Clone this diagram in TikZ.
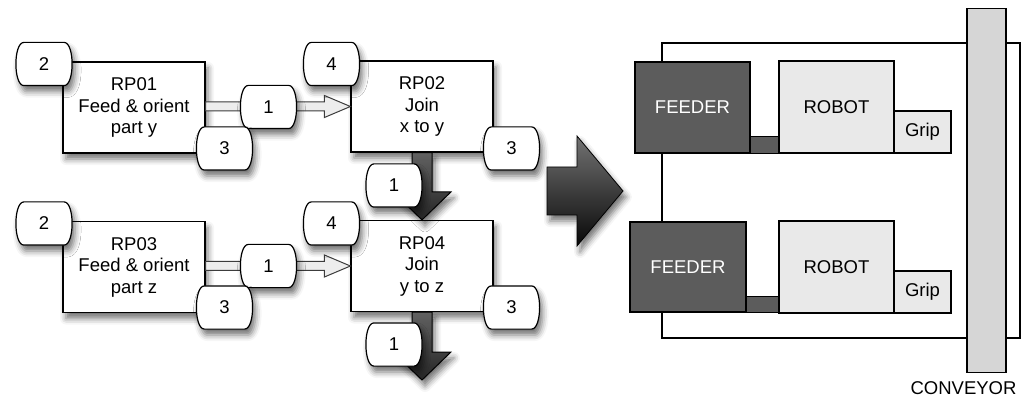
\documentclass[tikz,border=0pt]{standalone}
\usepackage{fontspec}
\setmainfont{Liberation Sans}
\usetikzlibrary{calc,shadows.blur}

\definecolor{feedgray}{HTML}{5C5C5C}
\definecolor{robotgray}{HTML}{E9E9E9}
\definecolor{convgray}{HTML}{D6D6D6}
\definecolor{hollowfill}{HTML}{EDEDED}
\definecolor{hollowline}{HTML}{3C3C3C}

% A box with flat top and bottom and gently bulging sides.
\makeatletter
\pgfdeclareshape{barrel}{
  \inheritsavedanchors[from=rectangle]
  \inheritanchorborder[from=rectangle]
  \inheritanchor[from=rectangle]{center}
  \inheritanchor[from=rectangle]{north}
  \inheritanchor[from=rectangle]{south}
  \inheritanchor[from=rectangle]{east}
  \inheritanchor[from=rectangle]{west}
  \inheritanchor[from=rectangle]{north east}
  \inheritanchor[from=rectangle]{north west}
  \inheritanchor[from=rectangle]{south east}
  \inheritanchor[from=rectangle]{south west}
  \inheritanchor[from=rectangle]{base}
  \inheritanchor[from=rectangle]{mid}
  \backgroundpath{
    \southwest \edef\brlL{\the\pgf@x}\edef\brlB{\the\pgf@y}
    \northeast \edef\brlR{\the\pgf@x}\edef\brlT{\the\pgf@y}
    \pgfmathsetlengthmacro\brlLi{\brlL+8pt}
    \pgfmathsetlengthmacro\brlRi{\brlR-8pt}
    \pgfmathsetlengthmacro\brlLo{\brlL-2.67pt}
    \pgfmathsetlengthmacro\brlRo{\brlR+2.67pt}
    \pgfpathmoveto{\pgfqpoint{\brlLi}{\brlT}}
    \pgfpathlineto{\pgfqpoint{\brlRi}{\brlT}}
    \pgfpathcurveto{\pgfqpoint{\brlRo}{\brlT}}{\pgfqpoint{\brlRo}{\brlB}}{\pgfqpoint{\brlRi}{\brlB}}
    \pgfpathlineto{\pgfqpoint{\brlLi}{\brlB}}
    \pgfpathcurveto{\pgfqpoint{\brlLo}{\brlB}}{\pgfqpoint{\brlLo}{\brlT}}{\pgfqpoint{\brlLi}{\brlT}}
    \pgfpathclose
  }
}
\makeatother

\tikzset{
  softshadow/.style={blur shadow={shadow xshift=3pt, shadow yshift=-6pt,
      shadow blur radius=6pt, shadow opacity=55}},
  procbox/.style={draw, line width=1.2pt, fill=white, align=center,
      minimum width=142pt, minimum height=91pt, inner sep=0pt, softshadow},
  badge/.style={barrel, draw, line width=1.2pt, fill=white,
      minimum width=55pt, minimum height=42pt, inner sep=0pt, softshadow},
  hollowarrow/.style={draw=hollowline, line width=1pt, fill=hollowfill},
  flowarrow/.style={draw=black, line width=1pt, top color=black!62,
      bottom color=black!85, softshadow},
  bigarrow/.style={draw=black, line width=0.8pt, top color=black!55,
      bottom color=black!97, softshadow},
  cellbox/.style={draw, line width=1.2pt, inner sep=0pt, align=center},
  feeder/.style={cellbox, fill=feedgray, text=white},
  robot/.style={cellbox, fill=robotgray},
  linkbar/.style={draw, line width=1.2pt, fill=feedgray},
}

\begin{document}
\begin{tikzpicture}[x=1pt, y=-1pt, font=\fontsize{18.5}{21.5}\selectfont]
\useasboundingbox (0,0) rectangle (1023,398);

% ---------------- process boxes ----------------
\node[procbox] (rp01) at (134,107.5) {RP01\\Feed \& orient\\part y};
\node[procbox] (rp02) at (422,106.5) {RP02\\Join\\x to y};
\node[procbox] (rp03) at (134,267)   {RP03\\Feed \& orient\\part z};
\node[procbox] (rp04) at (422,266)   {RP04\\Join\\y to z};
\coordinate (out04) at (422,380);

% ---------------- hollow transfer arrows ----------------
\foreach \src/\dst in {rp01/rp02, rp03/rp04}{
  \draw[hollowarrow]
    ($(\src.east |- \dst.west)+(0,-4.5)$) --
    ($(\dst.west)+(-26,-4.5)$) -- ($(\dst.west)+(-26,-11)$) --
    (\dst.west) --
    ($(\dst.west)+(-26,11)$) -- ($(\dst.west)+(-26,4.5)$) --
    ($(\src.east |- \dst.west)+(0,4.5)$) -- cycle;
}

% ---------------- solid downward flow arrows ----------------
\draw[flowarrow]
  ($(rp02.south)+(-10,0)$) -- ($(rp02.south)+(10,0)$) --
  ($(rp04.north)+(10,-28)$) -- ($(rp04.north)+(29,-28)$) --
  (rp04.north) --
  ($(rp04.north)+(-29,-28)$) -- ($(rp04.north)+(-10,-28)$) -- cycle;
\draw[flowarrow]
  ($(rp04.south)+(-10,0)$) -- ($(rp04.south)+(10,0)$) --
  ($(out04)+(10,-28)$) -- ($(out04)+(29,-28)$) --
  (out04) --
  ($(out04)+(-29,-28)$) -- ($(out04)+(-10,-28)$) -- cycle;

% ---------------- port badges ----------------
\node[badge] (b01in)  at (44,64)      {2};
\node[badge] (b01out) at (268.5,107)  {1};
\node[badge] (b01aux) at (224.5,148.5){3};
\node[badge] (b02in)  at (331.5,64)   {4};
\node[badge] (b02aux) at (511.5,148.5){3};
\node[badge] (b02out) at (394,185.5)  {1};

\node[badge] (b03in)  at (44,223.5)   {2};
\node[badge] (b03out) at (268.5,266)  {1};
\node[badge] (b03aux) at (224.5,307.5){3};
\node[badge] (b04in)  at (331.5,223.5){4};
\node[badge] (b04aux) at (511.5,307.5){3};
\node[badge] (b04out) at (394,344.5)  {1};

% ---------------- big transition arrow ----------------
\draw[bigarrow] (547,167) -- (577,167) -- (577,136) -- (623,191) --
  (577,246) -- (577,215) -- (547,215) -- cycle;

% ---------------- cell layout ----------------
\draw[line width=1.2pt] (662,43) rectangle (1020,338);
\node[cellbox, fill=convgray, minimum width=39pt, minimum height=364pt]
  (conv) at (986.5,190.5) {};
\node[anchor=north] (convlbl) at ($(conv.south)+(-23,5)$) {CONVEYOR};

\node[feeder, minimum width=115pt, minimum height=91pt] (fd1) at (692.5,107.5) {FEEDER};
\node[robot,  minimum width=115pt, minimum height=92pt] (rb1) at (836.5,107)   {ROBOT};
\node[robot,  minimum width=57pt,  minimum height=42pt] (gr1) at (922.5,132)   {Grip};
\draw[linkbar] (fd1.south east) rectangle ($(rb1.west |- fd1.south)+(0,-17)$);

\node[feeder, minimum width=116pt, minimum height=90pt] (fd2) at (688,267)     {FEEDER};
\node[robot,  minimum width=115pt, minimum height=92pt] (rb2) at (836.5,267)   {ROBOT};
\node[robot,  minimum width=57pt,  minimum height=42pt] (gr2) at (922.5,292)   {Grip};
\draw[linkbar] (fd2.south east) rectangle ($(rb2.west |- fd2.south)+(0,-16)$);
\end{tikzpicture}
\end{document}
